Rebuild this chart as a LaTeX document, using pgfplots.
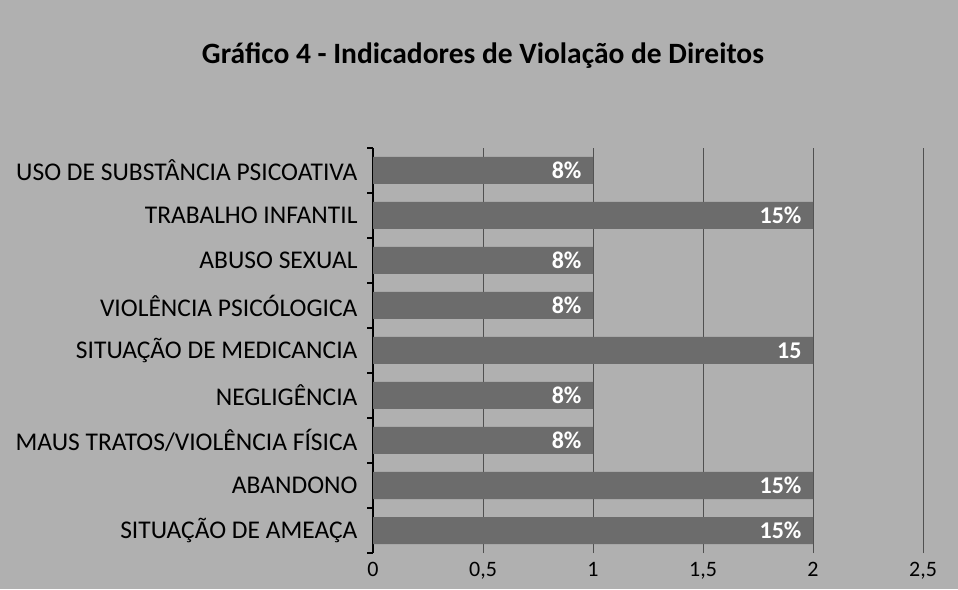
\documentclass[border=0pt]{standalone}
\usepackage{fontspec}
\setmainfont{Carlito}
\usepackage{pgfplots}
\pgfplotsset{compat=1.18}
\definecolor{bg}{HTML}{B0B0B0}
\definecolor{barc}{HTML}{6C6C6C}
\definecolor{gridc}{HTML}{505050}
\begin{document}
\begin{tikzpicture}
\fill[bg] (0pt,0pt) rectangle (958pt,589pt);
\node[font=\fontsize{29.5}{34}\selectfont\bfseries] at (483pt,533pt) {Gráfico 4 - Indicadores de Violação de Direitos};
\begin{axis}[
  at={(373pt,36pt)}, anchor=south west,
  scale only axis, width=550pt, height=405pt,
  xbar, bar width=27pt,
  xmin=0, xmax=2.5, ymin=-0.5, ymax=8.5,
  axis y line*=left, axis x line*=bottom,
  x axis line style={draw=none},
  y axis line style={line width=2.5pt, black, -},
  xtick={0,0.5,1,1.5,2,2.5},
  xticklabels={0,{0,5},1,{1,5},2,{2,5}},
  ytick={0,...,8},
  yticklabels={SITUAÇÃO DE AMEAÇA, ABANDONO, MAUS TRATOS/VIOLÊNCIA FÍSICA, NEGLIGÊNCIA, SITUAÇÃO DE MEDICANCIA, VIOLÊNCIA PSICÓLOGICA, ABUSO SEXUAL, TRABALHO INFANTIL, USO DE SUBSTÂNCIA PSICOATIVA},
  major tick length=0pt,
  minor ytick={-0.5,0.5,...,8.5},
  minor tick length=6pt,
  tick align=outside,
  minor tick style={line width=2pt, black},
  xmajorgrids, grid style={gridc, line width=0.8pt},
  yticklabel style={font=\fontsize{25.5}{30}\selectfont, xshift=-12pt},
  xticklabel style={font=\fontsize{22}{26}\selectfont, yshift=-6pt},
  point meta=explicit symbolic,
  nodes near coords,
  nodes near coords style={anchor=east, xshift=-8pt, text=white, font=\fontsize{24}{28}\selectfont\bfseries},
]
\addplot[fill=barc, draw=none] coordinates {
(2,0) [15\%]
(2,1) [15\%]
(1,2) [8\%]
(1,3) [8\%]
(2,4) [15]
(1,5) [8\%]
(1,6) [8\%]
(2,7) [15\%]
(1,8) [8\%]
};
\end{axis}
\end{tikzpicture}
\end{document}
